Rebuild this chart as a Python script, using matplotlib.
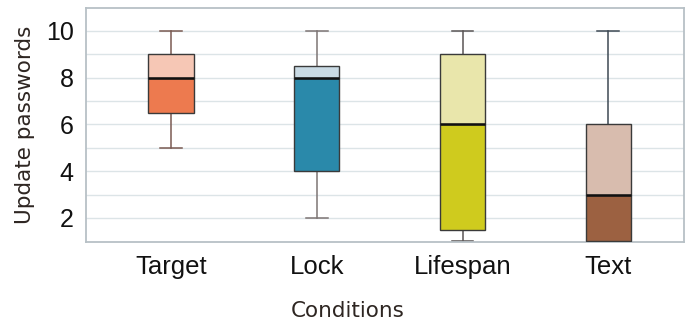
import matplotlib.pyplot as plt

conditions = ["Target", "Lock", "Lifespan", "Text"]
whis_low = [5, 2, 1, 1]
q1 = [6.5, 4, 1.5, 1]
median = [8, 8, 6, 3]
q3 = [9, 8.5, 9, 6]
whis_high = [10, 10, 10, 10]

dark = ["#ED7A4F", "#2A89AA", "#CFCB1E", "#9C6141"]
light = ["#F6C7B5", "#C9DAE4", "#E9E6AB", "#D8BCAE"]
whisker_col = ["#7A5A52", "#7D7574", "#5A5555", "#3E4954"]

plt.rcParams['font.family'] = ['Liberation Sans', 'DejaVu Sans']

fig = plt.figure(figsize=(6.91, 3.24), dpi=100)
ax = fig.add_axes([0.1245, 0.253, 0.8655, 0.722])

pos = list(range(1, len(conditions) + 1))
width = 0.31

stats = []
for i in range(len(conditions)):
    stats.append({"whislo": whis_low[i], "q1": q1[i], "med": median[i],
                  "q3": q3[i], "whishi": whis_high[i], "fliers": []})

bp = ax.bxp(stats, positions=pos, widths=width, showbox=False,
            showfliers=False, manage_ticks=False)
for i in range(len(conditions)):
    for w in bp["whiskers"][2 * i:2 * i + 2]:
        w.set_color(whisker_col[i])
        w.set_linewidth(1.1)
    for c in bp["caps"][2 * i:2 * i + 2]:
        c.set_color(whisker_col[i])
        c.set_linewidth(1.1)
        c.set_xdata([pos[i] - 0.075, pos[i] + 0.075])
for m in bp["medians"]:
    m.set_visible(False)

lower = [m - a for m, a in zip(median, q1)]
upper = [b - m for b, m in zip(q3, median)]
ax.bar(pos, lower, width=width, bottom=q1, color=dark, edgecolor="#3A3A3A",
       linewidth=1.0, zorder=3)
ax.bar(pos, upper, width=width, bottom=median, color=light, edgecolor="#3A3A3A",
       linewidth=1.0, zorder=3)
ax.hlines(median, [p - width / 2 for p in pos], [p + width / 2 for p in pos],
          color="#111111", linewidth=1.8, zorder=4)

ax.set_xlim(0.417, 4.52)
ax.set_ylim(0.97, 10.97)
ax.set_yticks([2, 4, 6, 8, 10])
ax.set_yticks(range(2, 11), minor=True)
ax.set_xticks(pos)
ax.set_xticklabels(conditions)
ax.tick_params(axis="both", length=0, colors="#111111")
ax.tick_params(axis="x", pad=9, labelsize=18.5)
ax.tick_params(axis="y", pad=9, labelsize=18)
ax.tick_params(which="minor", length=0)
ax.grid(True, axis="y", which="both", color="#DCE4E7", linewidth=1.0, zorder=0)
ax.set_axisbelow(True)
for s in ax.spines.values():
    s.set_color("#B7C0C6")
    s.set_linewidth(1.3)

ax.set_xlabel("Conditions", fontsize=15.5, color="#2E2622",
              family=["DejaVu Sans"])
ax.xaxis.set_label_coords(0.438, -0.25)
ax.set_ylabel("Update passwords", fontsize=15.5, color="#2E2622",
              family=["DejaVu Sans"])
ax.yaxis.set_label_coords(-0.085, 0.5)

fig.savefig("out.png", dpi=100)
